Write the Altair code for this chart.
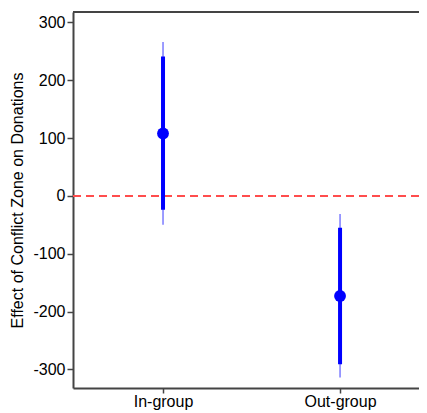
import altair as alt
import pandas as pd

groups = ["In-group", "Out-group"]
xpos = [1, 2]
estimate = [108, -173]
lo95 = [-50, -314]
hi95 = [266, -31]
lo90 = [-24, -291]
hi90 = [241, -55]

df = pd.DataFrame({"group": groups, "x": xpos, "est": estimate,
                   "lo95": lo95, "hi95": hi95, "lo90": lo90, "hi90": hi90})
zero = pd.DataFrame({"y": [0]})

W, H = 346, 376
FONT = "Liberation Sans"

xs = alt.Scale(domain=[0.4915, 2.446], nice=False, zero=False)
ys = alt.Scale(domain=[-332, 318], nice=False, zero=False)

xaxis = alt.Axis(values=xpos, labelExpr="datum.value == 1 ? 'In-group' : 'Out-group'",
                 grid=False, title=None, domainColor="#444444", domainWidth=2,
                 tickColor="#444444", tickWidth=1.5, tickSize=5, labelFontSize=16,
                 labelFont=FONT, labelColor="black", labelPadding=0)
yaxis = alt.Axis(values=[-300, -200, -100, 0, 100, 200, 300], grid=False,
                 labelExpr="'' + datum.value",
                 title="Effect of Conflict Zone on Donations", titleFont=FONT,
                 titleFontSize=16, titleFontWeight="normal", titleColor="black",
                 titlePadding=7, domainColor="#444444", domainWidth=2,
                 tickColor="#444444", tickWidth=1.5, tickSize=6, labelFontSize=16,
                 labelFont=FONT, labelColor="black", labelPadding=2)

base = alt.Chart(df)

thin = base.mark_rule(color="#0000ff", strokeWidth=1.2, opacity=0.65).encode(
    x=alt.X("x:Q", scale=xs, axis=xaxis),
    y=alt.Y("lo95:Q", scale=ys, axis=yaxis),
    y2="hi95:Q")
thick = base.mark_rule(color="#0000ff", strokeWidth=4).encode(
    x=alt.X("x:Q", scale=xs), y=alt.Y("lo90:Q", scale=ys), y2="hi90:Q")
pts = base.mark_point(filled=True, color="#0000ff", size=140, opacity=1).encode(
    x=alt.X("x:Q", scale=xs), y=alt.Y("est:Q", scale=ys))
zl = alt.Chart(zero).mark_rule(color="#ff4d4d", strokeWidth=2, strokeDash=[8, 5]).encode(
    y=alt.Y("y:Q", scale=ys))
top = alt.Chart(zero).mark_rule(color="#444444", strokeWidth=2).encode(
    x=alt.value(0), x2=alt.value(W), y=alt.value(0))

chart = alt.layer(zl, thin, thick, pts, top).properties(
    width=W, height=H,
    autosize=alt.AutoSizeParams(type="none"),
    padding={"left": 65, "top": 4, "right": 0, "bottom": 25},
    background="white",
).configure_view(stroke=None)

chart.save("out.html", embed_options={"renderer": "svg", "actions": False})
